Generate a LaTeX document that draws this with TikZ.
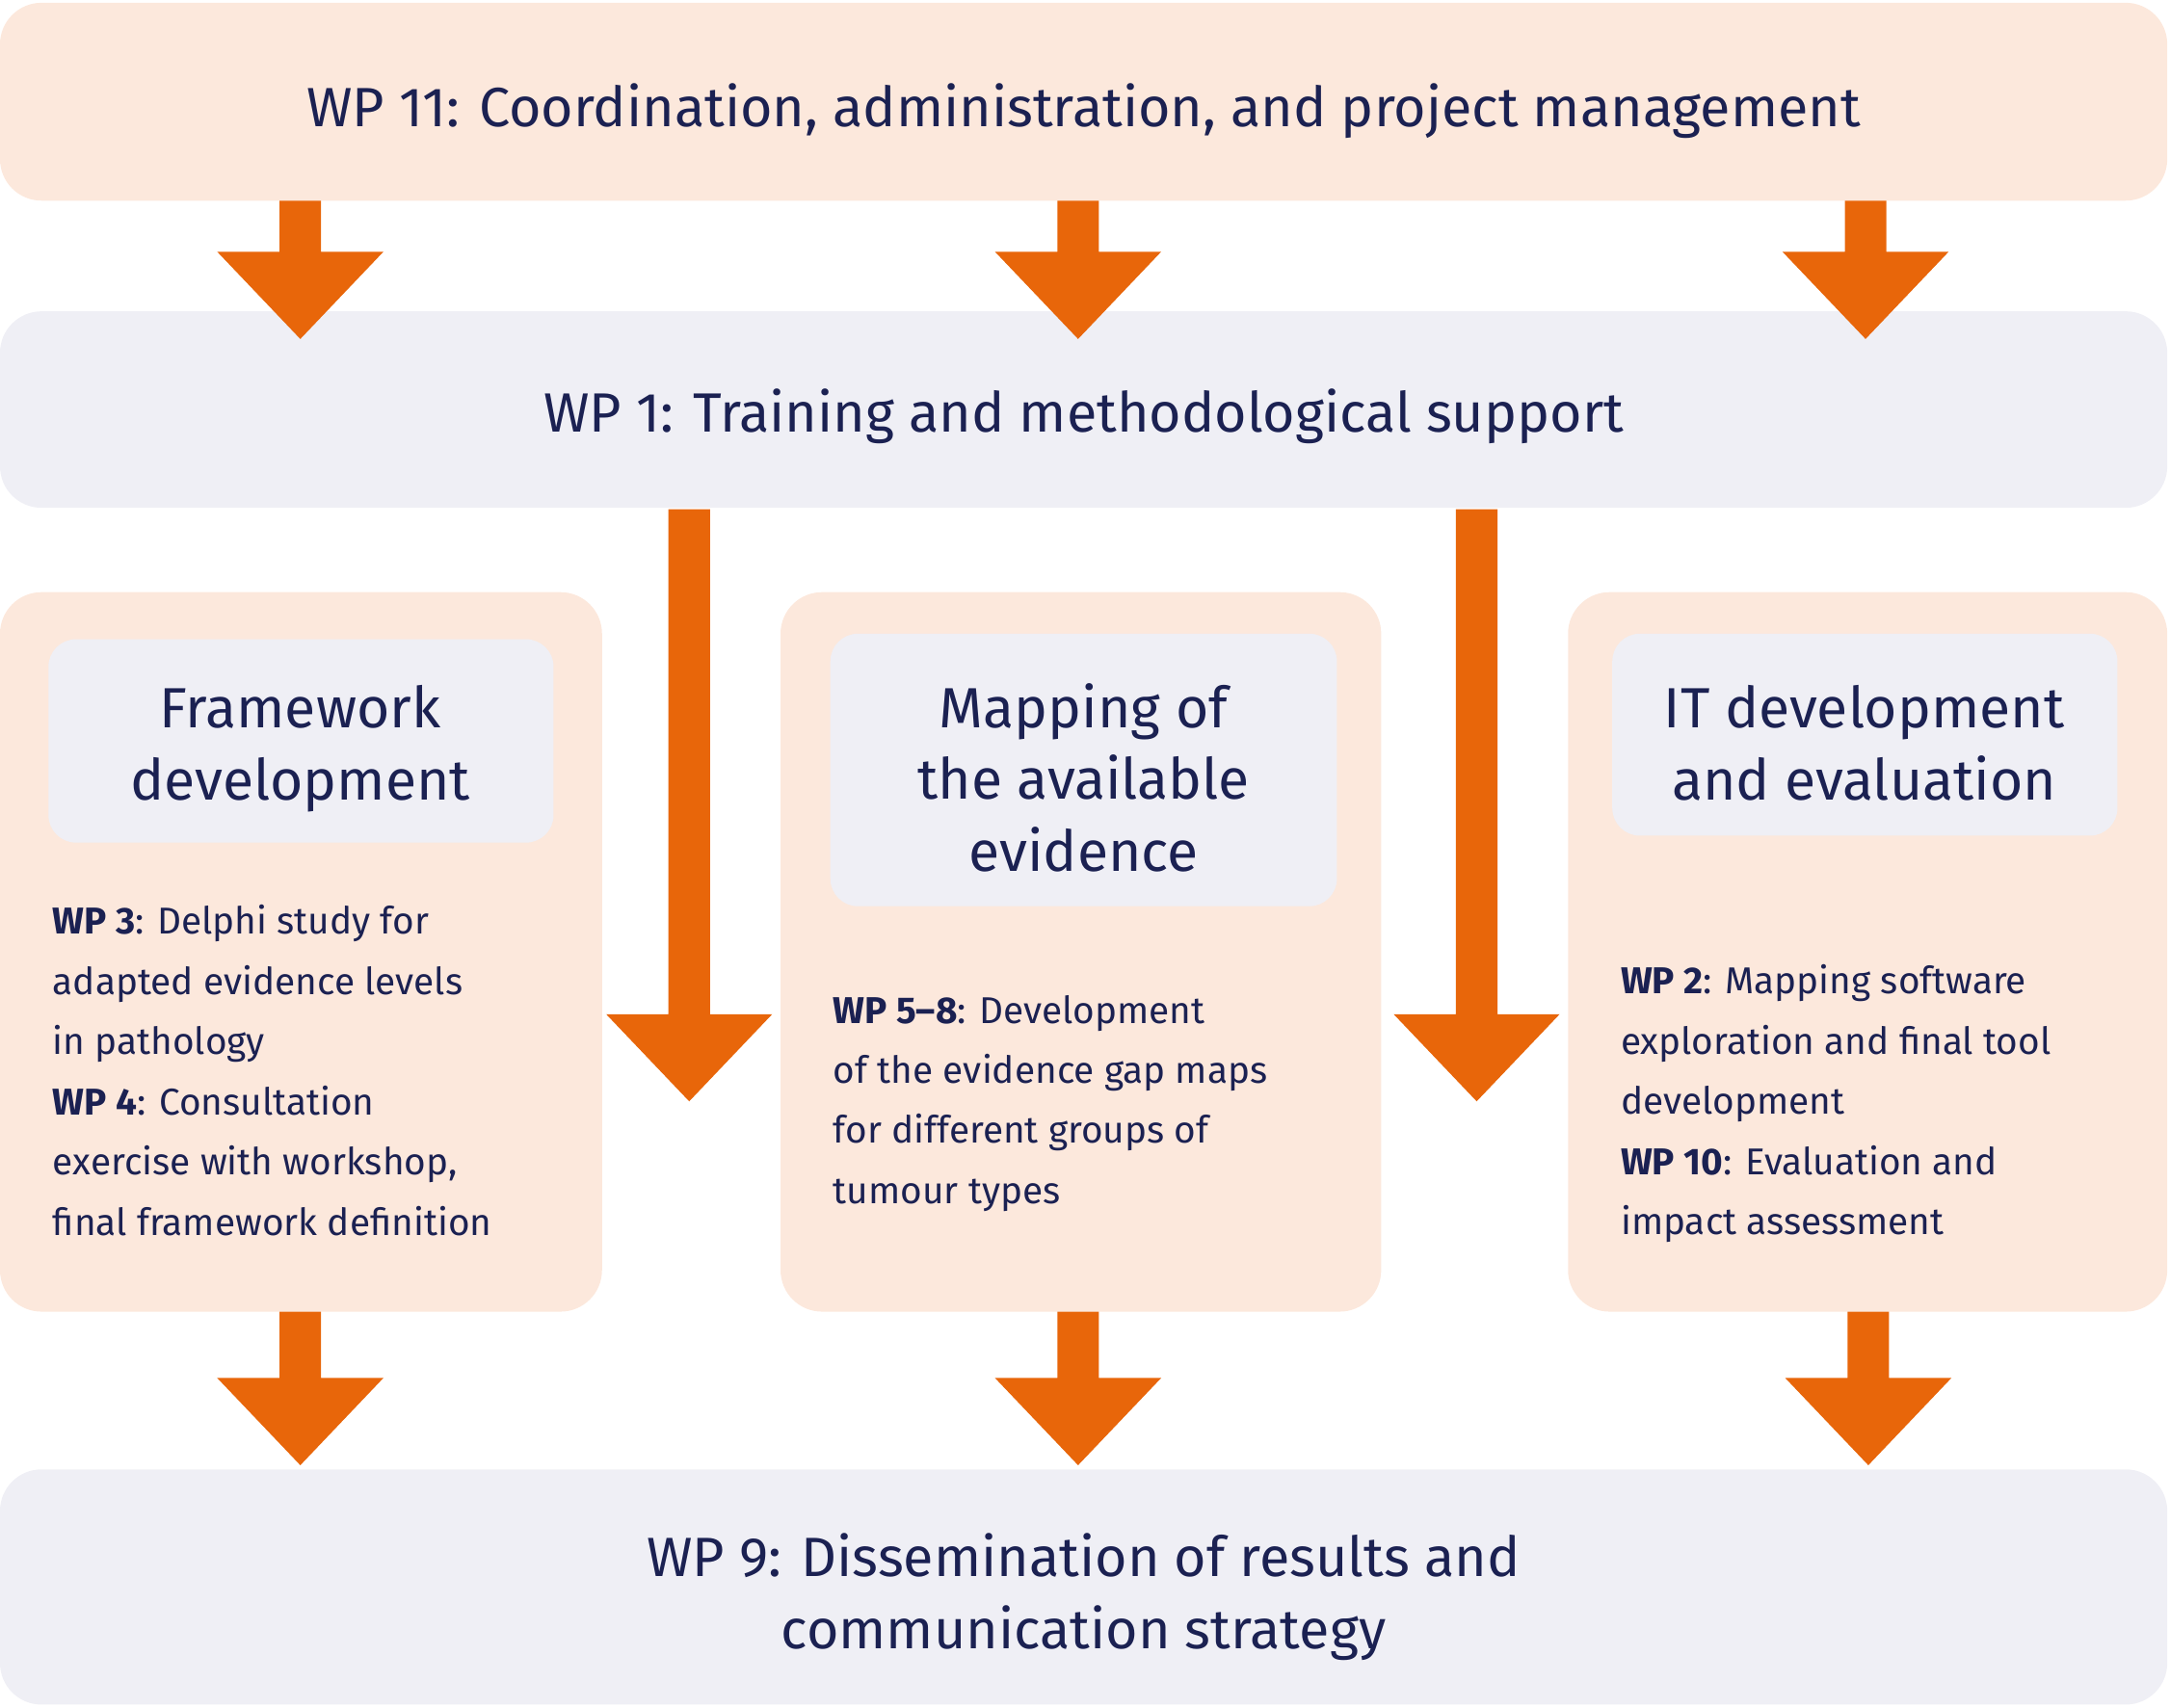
\documentclass[tikz,border=0pt]{standalone}
\usepackage{fontspec}
\setmainfont{Fira Sans}
\definecolor{peach}{HTML}{FCE8DC}
\definecolor{lav}{HTML}{EFEFF5}
\definecolor{orng}{HTML}{E8660A}
\definecolor{navy}{HTML}{1B2152}
\newcommand\blockarrow[4]{\fill[orng] (#1-15,-#2) -- (#1+15,-#2) -- (#1+15,-#3) -- (#1+60,-#3) -- (#1,-#4) -- (#1-60,-#3) -- (#1-15,-#3) -- cycle;}
\begin{document}
\begin{tikzpicture}[x=1pt,y=1pt,
  peachbox/.style={fill=peach,rounded corners=30pt},
  lavbox/.style={fill=lav,rounded corners=20pt},
  bigtxt/.style={text=navy,font=\fontsize{40}{52}\selectfont,align=center},
  headtxt/.style={text=navy,font=\fontsize{41}{52}\selectfont,align=center},
  bodytxt/.style={text=navy,font=\fontsize{27}{43.5}\selectfont,align=left,anchor=north west,inner sep=0pt}]
\useasboundingbox (0,0) rectangle (1568,-1234);
\fill[peachbox] (0,-2) rectangle (1566,-145);
\fill[lav,rounded corners=30pt] (0,-225) rectangle (1566,-367);
\fill[lav,rounded corners=30pt] (0,-1062) rectangle (1566,-1232);
\node[bigtxt] (wp11) at (783,-80) {WP 11: Coordination, administration, and project management};
\node[bigtxt] (wp1) at (783,-301) {WP 1: Training and methodological support};
\node[bigtxt] (wp9) at (783,-1154) {WP 9: Dissemination of results and\\communication strategy};
\foreach \a/\b in {0/435,564/998,1133/1566}{\fill[peachbox] (\a,-428) rectangle (\b,-948);}
\fill[lavbox] (35,-462) rectangle (400,-609);
\fill[lavbox] (600,-458) rectangle (966,-655);
\fill[lavbox] (1165,-458) rectangle (1530,-604);
\node[headtxt] (h1) at (217,-541) {Framework\\development};
\node[headtxt] (h2) at (783,-562) {Mapping of\\the available\\evidence};
\node[headtxt] (h3) at (1347,-537) {IT development\\and evaluation};
\node[bodytxt] (b1) at (38,-654) {\textbf{WP 3}: Delphi study for\\adapted evidence levels\\in pathology\\\textbf{WP 4}: Consultation\\exercise with workshop,\\final framework definition};
\node[bodytxt] (b2) at (602,-719) {\textbf{WP 5–8}: Development\\of the evidence gap maps\\for different groups of\\tumour types};
\node[bodytxt] (b3) at (1171,-697) {\textbf{WP 2}: Mapping software\\exploration and final tool\\development\\\textbf{WP 10}: Evaluation and\\impact assessment};
\blockarrow{217}{145}{182}{245}
\blockarrow{779}{145}{182}{245}
\blockarrow{1348}{145}{182}{245}
\blockarrow{498}{368}{733}{796}
\blockarrow{1067}{368}{733}{796}
\blockarrow{217}{948}{996}{1059}
\blockarrow{779}{948}{996}{1059}
\blockarrow{1350}{948}{996}{1059}
\end{tikzpicture}
\end{document}
